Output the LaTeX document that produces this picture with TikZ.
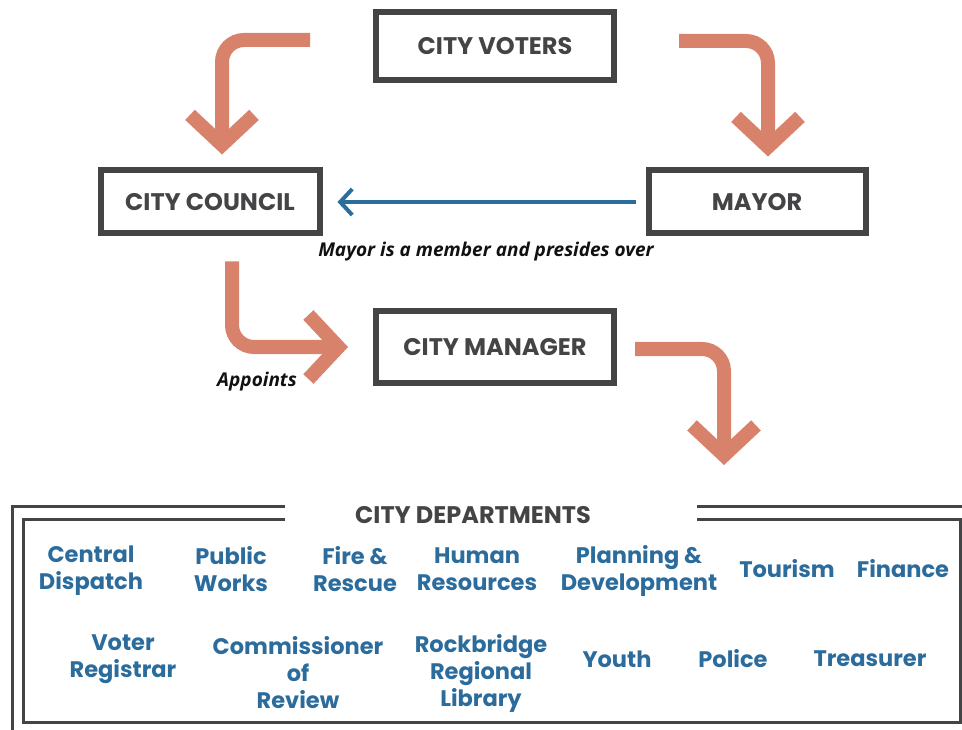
\documentclass[tikz,border=0pt]{standalone}
\usepackage{fontspec,xcolor,tikz}
\usetikzlibrary{arrows.meta}
\newfontfamily\kopf{Poppins}
\newfontfamily\osans{Open Sans}
\definecolor{lachs}{HTML}{D9826B}
\definecolor{rahmen}{HTML}{444446}
\definecolor{blau}{HTML}{2B6C9C}
\definecolor{tinte}{HTML}{111111}
\newcommand{\titel}{\kopf\bfseries\fontsize{24}{28}\selectfont}
\newcommand{\abt}{\kopf\bfseries\fontsize{22.5}{27}\selectfont}
\newcommand{\notiz}{\osans\bfseries\itshape\fontsize{19}{22}\selectfont}
\tikzset{kasten/.style={draw=rahmen,line width=6pt,text=rahmen,font=\titel,inner sep=0},
  bogen/.style={lachs,line width=14pt,rounded corners=22pt,
    -{Straight Barb[length=30pt,width=64pt]}},
  querpfeil/.style={blau,line width=4pt,-{Straight Barb[length=12pt,width=26pt]}},
  abtlg/.style={text=blau,font=\abt,align=center,inner sep=0},
  rahmenlinie/.style={rahmen,line width=3pt}}

\begin{document}
\begin{tikzpicture}[x=1pt,y=-1pt]
\useasboundingbox (0,0) rectangle (962,730);
% Kaesten
\node[kasten,minimum width=238pt,minimum height=68pt] (voters) at (495,46) {CITY VOTERS};
\node[kasten,minimum width=219pt,minimum height=63pt] (council) at (210,202) {CITY COUNCIL};
\node[kasten,minimum width=217pt,minimum height=63pt] (mayor) at (757,202) {MAYOR};
\node[kasten,minimum width=238pt,minimum height=71pt] (manager) at (495,347) {CITY MANAGER};
% Pfeile
\draw[bogen] ([xshift=-63pt,yshift=6pt]voters.west) -| ([xshift=12pt,yshift=13pt]council.north);
\draw[bogen] ([xshift=62pt,yshift=5pt]voters.east) -| ([xshift=11pt,yshift=11pt]mayor.north);
\draw[bogen] ([xshift=22pt,yshift=-25pt]council.south) |- ([xshift=-25pt]manager.west);
\coordinate (abt) at (724,465);
\draw[bogen] ([xshift=18pt,yshift=-2pt]manager.east) -| (abt);
\draw[querpfeil] ([xshift=-10pt]mayor.west) -- ([xshift=15pt]council.east);
\node[text=tinte,font=\notiz,inner sep=0] (praesidiert) at (486,252) {Mayor is a member and presides over};
\node[text=tinte,font=\notiz,inner sep=0] (ernennt) at (257,382) {Appoints};
% Abteilungen
\draw[rahmenlinie] (285,506) -| (12,745);
\draw[rahmenlinie] (697,506) -- (975,506);
\draw[rahmenlinie] (285,519) -| (23,722) -| (960,519) -- (697,519);
\node[text=rahmen,font=\titel,inner sep=0] (dept) at (473,515) {CITY DEPARTMENTS};
\node[abtlg] (dispatch) at (91,571) {Central\\Dispatch};
\node[abtlg] (works) at (231,569) {Public\\Works};
\node[abtlg] (fire) at (355,569) {Fire \&\\Rescue};
\node[abtlg] (hr) at (477,569) {Human\\Resources};
\node[abtlg] (planning) at (639,571) {Planning \&\\Development};
\node[abtlg] (tourism) at (787,569) {Tourism};
\node[abtlg] (finance) at (903,569) {Finance};
\node[abtlg] (registrar) at (123,659) {Voter\\Registrar};
\node[abtlg] (review) at (298,673) {Commissioner\\of\\Review};
\node[abtlg] (library) at (481,673) {Rockbridge\\Regional\\Library};
\node[abtlg] (youth) at (617,659) {Youth};
\node[abtlg] (police) at (733,659) {Police};
\node[abtlg] (treasurer) at (870,659) {Treasurer};
\end{tikzpicture}
\end{document}
